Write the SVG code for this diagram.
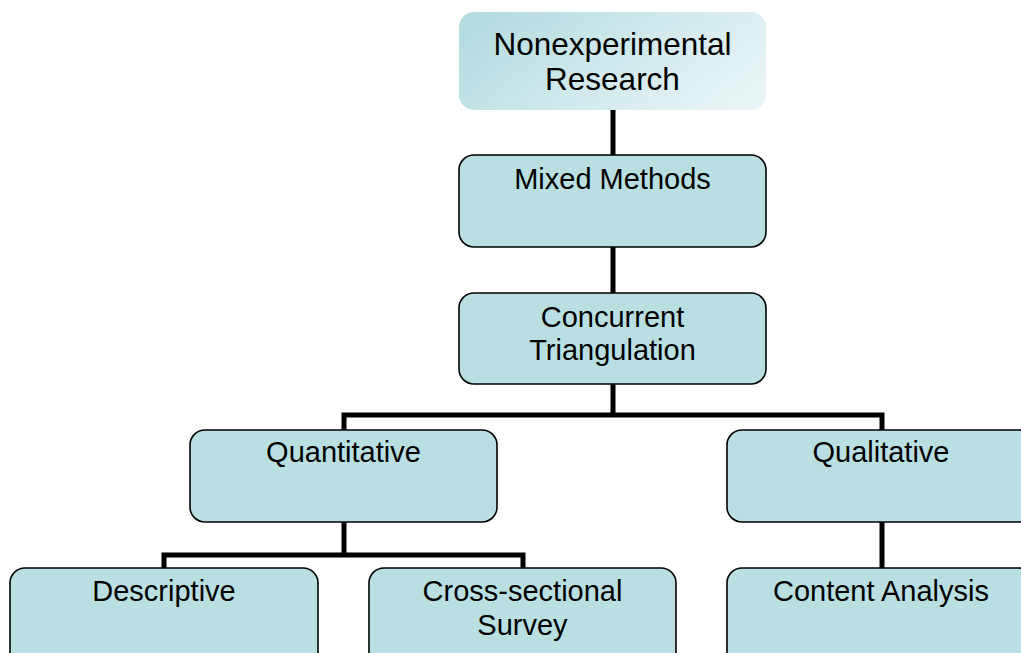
<svg xmlns="http://www.w3.org/2000/svg" width="1021" height="653" viewBox="0 0 1021 653">
<defs>
<linearGradient id="g1" x1="0" y1="0.3" x2="1" y2="0.7">
<stop offset="0" stop-color="#b5dce1"/>
<stop offset="0.5" stop-color="#d0e9ec"/>
<stop offset="1" stop-color="#e8f4f6"/>
</linearGradient>
<style>
.box{fill:#b9dfe3;stroke:#000;stroke-width:1.6}
.t{font-family:"Liberation Sans",Arial,sans-serif;font-size:29px;fill:#000;text-anchor:middle}
.c{fill:none;stroke:#000;stroke-width:5}
</style>
</defs>
<rect width="1021" height="653" fill="#fff"/>
<g id="connectors">
<path class="c" d="M613 110V155"/>
<path class="c" d="M613 247V293"/>
<path class="c" d="M613 384V415M344 430V415H882V430"/>
<path class="c" d="M344 522V555M164 568V555H523V568"/>
<path class="c" d="M882 522V568"/>
</g>
<g id="n-nonexp">
<rect x="459" y="12" width="307" height="98" rx="15" fill="url(#g1)"/>
<text class="t" x="612.5" y="55" style="font-size:31.5px">Nonexperimental</text>
<text class="t" x="612.5" y="90" style="font-size:31.5px">Research</text>
</g>
<g id="n-mixed">
<rect class="box" x="459" y="155" width="307" height="92" rx="15"/>
<text class="t" x="612.5" y="189">Mixed Methods</text>
</g>
<g id="n-concurrent">
<rect class="box" x="459" y="293" width="307" height="91" rx="15"/>
<text class="t" x="612.5" y="327">Concurrent</text>
<text class="t" x="612.5" y="360">Triangulation</text>
</g>
<g id="n-quant">
<rect class="box" x="190" y="430" width="307" height="92" rx="15"/>
<text class="t" x="343.5" y="462">Quantitative</text>
</g>
<g id="n-qual">
<rect class="box" x="727" y="430" width="307" height="92" rx="15"/>
<text class="t" x="881" y="462">Qualitative</text>
</g>
<g id="n-desc">
<rect class="box" x="10" y="568" width="308" height="100" rx="15"/>
<text class="t" x="164" y="601">Descriptive</text>
</g>
<g id="n-cross">
<rect class="box" x="369" y="568" width="307" height="100" rx="15"/>
<text class="t" x="522.5" y="601">Cross-sectional</text>
<text class="t" x="522.5" y="635">Survey</text>
</g>
<g id="n-content">
<rect class="box" x="727" y="568" width="307" height="100" rx="15"/>
<text class="t" x="881" y="601">Content Analysis</text>
</g>
</svg>
